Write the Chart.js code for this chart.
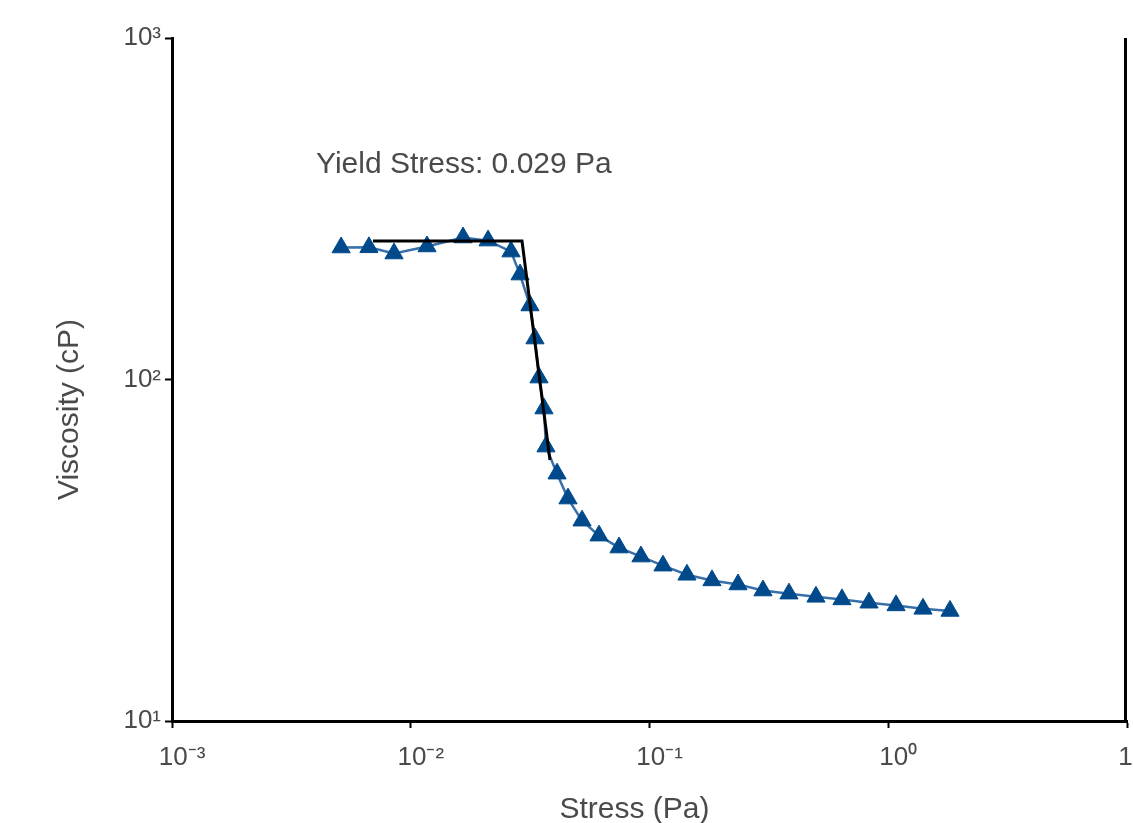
<!DOCTYPE html>
<html>
<head>
<meta charset="utf-8">
<script src="https://cdn.jsdelivr.net/npm/chart.js@4"></script>
<style>
  html, body { margin: 0; padding: 0; background: #fff; overflow: hidden; }
  #wrap { position: absolute; left: 0; top: 0; width: 1180px; height: 840px; }
</style>
</head>
<body>
<div id="wrap"><canvas id="viscCanvas" width="1180" height="840"></canvas></div>
<script>
// stress (Pa) vs viscosity (cP)
const stress = [0.00511, 0.00668, 0.00851, 0.0117, 0.01656, 0.02108, 0.0263, 0.0287, 0.03158, 0.03314,
  0.03445, 0.03614, 0.03685, 0.0410, 0.04557, 0.05217, 0.06146, 0.07454, 0.0921, 0.1139,
  0.1435, 0.1827, 0.2348, 0.2988, 0.3839, 0.498, 0.640, 0.8306, 1.078, 1.398, 1.814];
const viscosity = [243.5, 243.8, 233.8, 245.2, 260.5, 255.1, 236.9, 202.9, 164.7, 131.8,
  101.3, 82.2, 63.6, 53.0, 44.8, 38.6, 34.9, 32.2, 30.3, 28.5,
  26.8, 25.8, 25.1, 24.1, 23.6, 23.1, 22.7, 22.2, 21.8, 21.3, 21.0];

// tangent lines used for the yield stress
const fitStress = [0.00695, 0.02924, 0.03829];
const fitViscosity = [254.4, 254.4, 58.1];

const xTicks = [0.001, 0.01, 0.1, 1, 10];
const yTicks = [10, 100, 1000];

const noteText = 'Yield Stress: 0.029 Pa';
const noteAt = { x: 0.00401, y: 425 };

const textColor = '#4a4a4a';
const fontFamily = '"Liberation Sans", Arial, sans-serif';

const sup = { '-': '\u207B', '0': '\u2070', '1': '\u00B9', '2': '\u00B2', '3': '\u00B3' };
const powLabel = (v) => {
  const e = String(Math.round(Math.log10(v)));
  return '10' + e.split('').map(c => sup[c]).join('');
};

// right frame line + annotation text
const extras = {
  id: 'extras',
  afterDraw(chart) {
    const { ctx, chartArea, scales } = chart;
    ctx.save();
    ctx.strokeStyle = '#000';
    ctx.lineWidth = 3;
    ctx.beginPath();
    ctx.moveTo(chartArea.right - 1.5, chartArea.top);
    ctx.lineTo(chartArea.right - 1.5, chartArea.bottom + 1.5);
    ctx.stroke();

    ctx.fillStyle = textColor;
    ctx.font = '30px ' + fontFamily;
    ctx.textBaseline = 'middle';
    ctx.textAlign = 'left';
    ctx.fillText(noteText, scales.x.getPixelForValue(noteAt.x), scales.y.getPixelForValue(noteAt.y));
    ctx.restore();
  }
};

const ctxVisc = document.getElementById('viscCanvas').getContext('2d');

const viscChart = new Chart(ctxVisc, {
  type: 'line',
  data: {
    datasets: [
      {
        label: 'fit',
        data: fitStress.map((x, i) => ({ x: x, y: fitViscosity[i] })),
        borderColor: '#000',
        borderWidth: 3,
        pointRadius: 0,
        tension: 0
      },
      {
        label: 'Viscosity',
        data: stress.map((x, i) => ({ x: x, y: viscosity[i] })),
        borderColor: '#3a70aa',
        borderWidth: 2.5,
        pointStyle: 'triangle',
        pointRadius: 10.5,
        pointBackgroundColor: '#00498b',
        pointBorderColor: '#00498b',
        pointBorderWidth: 1,
        tension: 0
      }
    ]
  },
  options: {
    responsive: false,
    animation: false,
    events: [],
    layout: { padding: { left: 40, top: 38, right: 53, bottom: 0 } },
    plugins: {
      legend: { display: false },
      tooltip: { enabled: false }
    },
    scales: {
      x: {
        type: 'logarithmic',
        position: 'bottom',
        min: 0.001,
        max: 10,
        afterBuildTicks: (axis) => { axis.ticks = xTicks.map(v => ({ value: v })); },
        afterFit: (s) => { s.height = 119; },
        ticks: {
          callback: (v) => powLabel(v),
          color: textColor,
          font: { family: fontFamily, size: 26 },
          padding: 14,
          labelOffset: 10,
          maxRotation: 0,
          autoSkip: false
        },
        grid: { drawOnChartArea: false, tickLength: 7, tickWidth: 2, tickColor: '#000' },
        border: { display: true, color: '#000', width: 3 },
        title: {
          display: true,
          // trailing spaces nudge the centred title a bit left, like the original
          text: 'Stress (Pa)\u2002\u2002',
          color: textColor,
          font: { family: fontFamily, size: 30 },
          padding: { top: 0, bottom: 12 }
        }
      },
      y: {
        type: 'logarithmic',
        position: 'left',
        min: 10,
        max: 1000,
        afterBuildTicks: (axis) => { axis.ticks = yTicks.map(v => ({ value: v })); },
        afterFit: (s) => { s.width = 132; },
        ticks: {
          callback: (v) => powLabel(v),
          color: textColor,
          font: { family: fontFamily, size: 26 },
          padding: 4,
          autoSkip: false
        },
        grid: { drawOnChartArea: false, tickLength: 7, tickWidth: 2, tickColor: '#000' },
        border: { display: true, color: '#000', width: 3 },
        title: {
          display: true,
          text: 'Viscosity (cP)\u2002\u2002\u2002\u2002',
          color: textColor,
          font: { family: fontFamily, size: 30 },
          padding: { top: 12, bottom: 0 }
        }
      }
    }
  },
  plugins: [extras]
});
</script>
</body>
</html>
